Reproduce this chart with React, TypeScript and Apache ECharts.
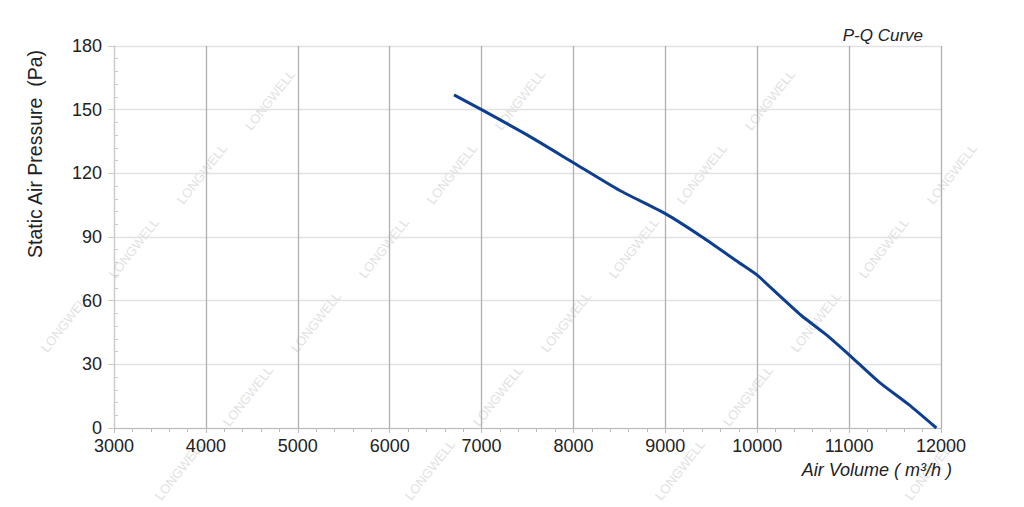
import React, { useEffect, useRef } from "react";
import * as echarts from "echarts";

const airVolume = [6700, 7000, 7500, 8000, 8500, 9000, 9400, 9800, 10000, 10250, 10480, 10750, 11000, 11330, 11650, 11950];
const pressure = [157, 150, 138, 125, 112, 101, 90, 78, 72, 62, 53, 44, 34.5, 21.5, 11, 0];
const xTicks = [3000, 4000, 5000, 6000, 7000, 8000, 9000, 10000, 11000, 12000];
const yTicks = [0, 30, 60, 90, 120, 150, 180];

export default function App() {
  const ref = useRef<HTMLDivElement>(null);
  useEffect(() => {
    if (!ref.current) return;
    const chart = echarts.init(ref.current, null, { renderer: "svg" });
    const marks: any[] = [];
    for (let d = -600; d < 1700; d += 250) {
      for (let k = 0; k < 12; k++) {
        const x = d + k * 68 + 30;
        const y = 470 - k * 74;
        if (x < 40 || x > 985 || y < 45 || y > 470) continue;
        marks.push({
          type: "text",
          x,
          y,
          rotation: (52 * Math.PI) / 180,
          silent: true,
          z: -10,
          style: { text: "LONGWELL", fill: "#e2e2e2", font: "13px Liberation Sans", align: "center", verticalAlign: "middle" },
        });
      }
    }
    marks.push({
      type: "text",
      x: 35,
      y: 154,
      rotation: Math.PI / 2,
      style: { text: "Static Air Pressure  (Pa)", fill: "#222", font: "19.5px Liberation Sans", align: "center", verticalAlign: "middle" },
    });
    const axisFont = { color: "#222", fontSize: 18, fontFamily: "Liberation Sans" };
    chart.setOption({
      animation: false,
      title: {
        text: "P-Q Curve",
        right: 96,
        top: 22,
        textStyle: { fontSize: 17, fontStyle: "italic", fontWeight: "normal", color: "#222", fontFamily: "Liberation Sans" },
      },
      graphic: marks,
      grid: { left: 114, right: 83, top: 46, bottom: 79 },
      xAxis: {
        type: "value",
        min: 3000,
        max: 12000,
        interval: 1000,
        name: "Air Volume ( m³/h )",
        nameLocation: "end",
        nameGap: 0,
        nameTextStyle: { ...axisFont, fontStyle: "italic", fontSize: 18, align: "right", verticalAlign: "top", padding: [33, -11, 0, 0] },
        axisLine: { show: true, lineStyle: { color: "#bbb", width: 1 } },
        axisTick: { show: true, length: 5, lineStyle: { color: "#bbb" } },
        minorTick: { show: true, splitNumber: 5, length: 4, lineStyle: { color: "#bbb" } },
        axisLabel: { ...axisFont, margin: 9, formatter: (v: number) => (xTicks.includes(v) ? String(v) : "") },
        splitLine: { show: true, lineStyle: { color: "#b0b0b0", width: 1.3 } },
      },
      yAxis: [
        {
          type: "value",
          min: 0,
          max: 180,
          interval: 30,
          axisLine: { show: true, lineStyle: { color: "#ccc", width: 1 } },
          axisTick: { show: true, length: 6, lineStyle: { color: "#ccc" } },
          axisLabel: { ...axisFont, margin: 12, formatter: (v: number) => (yTicks.includes(v) ? String(v) : "") },
          splitLine: { show: true, lineStyle: { color: "#e2e2e2", width: 1.3 } },
        },
        {
          type: "value",
          min: 0,
          max: 180,
          interval: 30,
          position: "left",
          axisLine: { show: false },
          axisTick: { show: false, inside: true },
          minorTick: { show: true, splitNumber: 5, length: 4, lineStyle: { color: "#ccc" } },
          axisLabel: { show: false },
          splitLine: { show: false },
        },
      ],
      series: [
        {
          type: "line",
          data: airVolume.map((x, i) => [x, pressure[i]]),
          showSymbol: false,
          smooth: 0.2,
          lineStyle: { color: "#0e3f8e", width: 3 },
        },
      ],
    });
    return () => chart.dispose();
  }, []);
  return <div ref={ref} style={{ width: 1024, height: 507, position: "absolute", left: 0, top: 0, background: "#fff" }} />;
}
